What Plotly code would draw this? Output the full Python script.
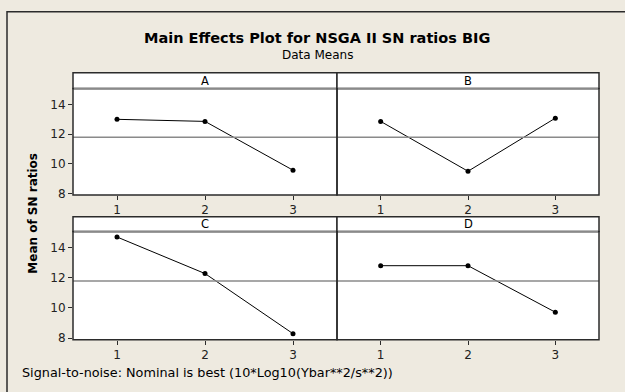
import plotly.graph_objects as go

# ---- data ----
levels = [1, 2, 3]
factors = ["A", "B", "C", "D"]
mean_A = [13.00, 12.86, 9.57]
mean_B = [12.86, 9.50, 13.08]
mean_C = [14.70, 12.28, 8.30]
mean_D = [12.80, 12.80, 9.72]
y_ticks = [8, 10, 12, 14]
x_ticks = [1, 2, 3]

title_text = "Main Effects Plot for NSGA II SN ratios BIG"
subtitle_text = "Data Means"
ytitle_text = "Mean of SN ratios"
footer_text = "Signal-to-noise: Nominal is best (10*Log10(Ybar**2/s**2))"

series = [mean_A, mean_B, mean_C, mean_D]
all_vals = [v for s in series for v in s]
grand_mean = sum(all_vals) / len(all_vals)

# ---- layout helpers (pixel -> paper) ----
W, H = 625, 392
def px(x):
    return x / W
def py(y):
    return 1 - y / H

BG = "#EEEAE0"
DARK = "#2b2b2b"
FONT = "DejaVu Sans"

# panel pixel boxes: (x0, x1, y_top, y_bottom, strip_top)
panels = [
    (73, 337, 90, 198, 74),
    (337, 599, 90, 198, 74),
    (73, 337, 235, 345, 220),
    (337, 599, 235, 345, 220),
]

fig = go.Figure()
layout_axes = {}
shapes = []
annotations = []

for i, (fac, vals, box) in enumerate(zip(factors, series, panels), start=1):
    x0, x1, yt, yb, st = box
    xa = "x" if i == 1 else f"x{i}"
    ya = "y" if i == 1 else f"y{i}"
    fig.add_trace(go.Scatter(
        x=levels, y=vals, mode="lines+markers",
        line=dict(color="black", width=1),
        marker=dict(color="black", size=5),
        xaxis=xa, yaxis=ya, showlegend=False, hoverinfo="skip",
    ))
    # grand mean reference line
    fig.add_trace(go.Scatter(
        x=[0.5, 3.5], y=[grand_mean, grand_mean], mode="lines",
        line=dict(color="#8a8a8a", width=1.5),
        xaxis=xa, yaxis=ya, showlegend=False, hoverinfo="skip",
    ))
    xkey = "xaxis" if i == 1 else f"xaxis{i}"
    ykey = "yaxis" if i == 1 else f"yaxis{i}"
    layout_axes[xkey] = dict(
        domain=[px(x0), px(x1)], range=[0.5, 3.5], anchor=ya,
        tickvals=x_ticks, ticks="outside", ticklen=4, tickcolor=DARK,
        showgrid=False, zeroline=False, showline=False,
        tickfont=dict(family=FONT, size=12, color="#222"),
    )
    layout_axes[ykey] = dict(
        domain=[py(yb), py(yt)], range=[7.9, 15.07], anchor=xa,
        tickvals=y_ticks, ticks="outside" if i in (1, 3) else "",
        ticklen=4, tickcolor=DARK, showticklabels=i in (1, 3),
        showgrid=False, zeroline=False, showline=False,
        tickfont=dict(family=FONT, size=12, color="#222"),
    )
    # panel border
    shapes.append(dict(type="rect", xref="paper", yref="paper",
                       x0=px(x0), x1=px(x1), y0=py(yb), y1=py(yt),
                       line=dict(color=DARK, width=1.5), layer="above"))
    # strip
    shapes.append(dict(type="rect", xref="paper", yref="paper",
                       x0=px(x0), x1=px(x1), y0=py(yt), y1=py(st),
                       fillcolor="white", line=dict(color=DARK, width=1.5),
                       layer="above"))
    shapes.append(dict(type="line", xref="paper", yref="paper",
                       x0=px(x0 + 1), x1=px(x1 - 1), y0=py(yt), y1=py(yt),
                       line=dict(color="#8a8a8a", width=1.5), layer="above"))
    annotations.append(dict(text=fac, xref="paper", yref="paper",
                            x=px((x0 + x1) / 2), y=py((st + yt) / 2),
                            xanchor="center", yanchor="middle", showarrow=False,
                            font=dict(family=FONT, size=11.5, color="black")))

# outer frame (extends beyond image right/bottom)
shapes.append(dict(type="rect", xref="paper", yref="paper",
                   x0=px(7), x1=1.2, y0=-0.2, y1=py(12),
                   line=dict(color=DARK, width=1.5), layer="below"))

annotations += [
    dict(text=f"<b>{title_text}</b>", xref="paper", yref="paper",
         x=px(317), y=py(39), xanchor="center", yanchor="middle", showarrow=False,
         font=dict(family=FONT, size=14.5, color="black")),
    dict(text=subtitle_text, xref="paper", yref="paper",
         x=px(317), y=py(56), xanchor="center", yanchor="middle", showarrow=False,
         font=dict(family=FONT, size=12, color="black")),
    dict(text=f"<b>{ytitle_text}</b>", xref="paper", yref="paper",
         x=px(33), y=py(217), xanchor="center", yanchor="middle", showarrow=False,
         textangle=-90, font=dict(family=FONT, size=12, color="black")),
    dict(text=footer_text, xref="paper", yref="paper",
         x=px(20), y=py(378), xanchor="left", yanchor="middle", showarrow=False,
         font=dict(family=FONT, size=12.8, color="black")),
]

fig.update_layout(
    width=W, height=H, margin=dict(l=0, r=0, t=0, b=0),
    paper_bgcolor=BG, plot_bgcolor="white",
    shapes=shapes, annotations=annotations, showlegend=False,
    **layout_axes,
)

fig.write_html("out.html")
